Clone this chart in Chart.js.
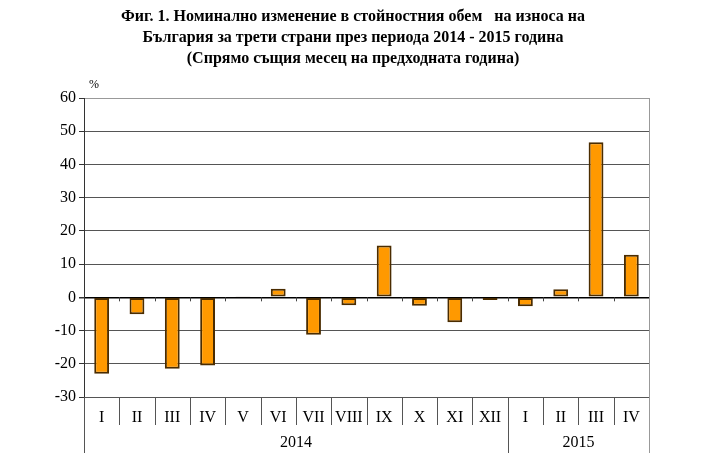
<!DOCTYPE html>
<html>
<head>
<meta charset="utf-8">
<script src="https://cdn.jsdelivr.net/npm/chart.js@4"></script>
<style>
  html, body { margin: 0; padding: 0; background: #fff; }
  canvas { display: block; }
</style>
</head>
<body>
<canvas id="exportChart" width="706" height="471"></canvas>
<script>
// Данни
const months = ['I', 'II', 'III', 'IV', 'V', 'VI', 'VII', 'VIII', 'IX', 'X', 'XI', 'XII', 'I', 'II', 'III', 'IV'];
const changePct = [-23.0, -5.1, -21.5, -20.5, 0.3, 2.6, -11.3, -2.4, 15.6, -2.5, -7.5, -0.8, -2.7, 2.4, 46.7, 12.8];
const years = ['2014', '2015'];
const yearSpans = [12, 4];
const titleLines = [
  'Фиг. 1. Номинално изменение в стойностния обем   на износа на',
  'България за трети страни през периода 2014 - 2015 година',
  '(Спрямо същия месец на предходната година)'
];

const SERIF = '"Liberation Serif", "Times New Roman", serif';

// заглавие, центрирано по цялата ширина
const pageTitle = {
  id: 'pageTitle',
  afterDraw(chart) {
    const ctx = chart.ctx;
    ctx.save();
    ctx.fillStyle = '#000';
    ctx.font = 'bold 16px ' + SERIF;
    ctx.textAlign = 'center';
    ctx.textBaseline = 'middle';
    titleLines.forEach((t, i) => ctx.fillText(t, chart.width / 2, 17 + i * 21));
    ctx.restore();
  }
};

// долна таблица с месеци и години
const axisTable = {
  id: 'axisTable',
  afterDraw(chart) {
    const ctx = chart.ctx;
    const x = chart.scales.x;
    const y = chart.scales.y;
    const area = chart.chartArea;
    const n = months.length;
    const edge = i => {
      if (i === 0) return area.left;
      if (i === n) return area.right;
      return (x.getPixelForValue(i - 1) + x.getPixelForValue(i)) / 2;
    };
    const yearEdges = [0];
    yearSpans.forEach(s => yearEdges.push(yearEdges[yearEdges.length - 1] + s));
    const zero = y.getPixelForValue(0);

    ctx.save();
    ctx.lineWidth = 1;
    // разделители под оста
    for (let i = 0; i <= n; i++) {
      const px = Math.round(edge(i)) + 0.5;
      const long = yearEdges.includes(i);
      ctx.strokeStyle = i === n ? '#999' : '#555';
      ctx.beginPath();
      ctx.moveTo(px, area.bottom);
      ctx.lineTo(px, area.bottom + (long ? 56 : 28));
      ctx.stroke();
      // малки чертички по нулевата линия
      if (i > 0 && i < n) {
        ctx.strokeStyle = '#444';
        ctx.beginPath();
        ctx.moveTo(px, zero);
        ctx.lineTo(px, zero + 4);
        ctx.stroke();
      }
    }
    // дясна рамка
    ctx.strokeStyle = '#999';
    ctx.beginPath();
    ctx.moveTo(Math.round(area.right) + 0.5, area.top);
    ctx.lineTo(Math.round(area.right) + 0.5, area.bottom);
    ctx.stroke();

    // години
    ctx.fillStyle = '#000';
    ctx.font = '16px ' + SERIF;
    ctx.textAlign = 'center';
    ctx.textBaseline = 'middle';
    years.forEach((yr, k) => {
      const cx = (edge(yearEdges[k]) + edge(yearEdges[k + 1])) / 2;
      ctx.fillText(yr, cx, area.bottom + 46);
    });

    // мерна единица
    ctx.font = '12px ' + SERIF;
    ctx.fillText('%', area.left + 10, area.top - 13);
    ctx.restore();
  }
};

new Chart(document.getElementById('exportChart'), {
  type: 'bar',
  data: {
    labels: months,
    datasets: [{
      data: changePct,
      backgroundColor: '#ff9900',
      borderColor: '#4a2c00',
      borderWidth: 2,
      borderSkipped: false,
      barPercentage: 0.42,
      categoryPercentage: 1,
    }],
  },
  options: {
    responsive: false,
    animation: false,
    layout: { padding: { left: 0, right: 57, top: 98, bottom: 0 } },
    plugins: {
      legend: { display: false },
      tooltip: { enabled: false },
      title: { display: false },
    },
    scales: {
      x: {
        grid: { display: false },
        border: { display: false },
        ticks: {
          color: '#000',
          font: { family: SERIF, size: 16 },
          padding: 3,
          maxRotation: 0,
          autoSkip: false,
        },
        afterFit(scale) { scale.height = 74; },
      },
      y: {
        min: -30,
        max: 60,
        ticks: {
          stepSize: 10,
          color: '#000',
          font: { family: SERIF, size: 16 },
          padding: 3,
        },
        grid: {
          color: c => c.tick.value === 0 ? '#000' : (c.tick.value === 60 ? '#999' : '#555'),
          lineWidth: c => c.tick.value === 0 ? 1.5 : 1,
          tickLength: 5,
          tickColor: '#333',
        },
        border: { display: true, color: '#333', width: 1 },
        afterFit(scale) { scale.width = 84; },
      },
    },
  },
  plugins: [pageTitle, axisTable],
});
</script>
</body>
</html>
